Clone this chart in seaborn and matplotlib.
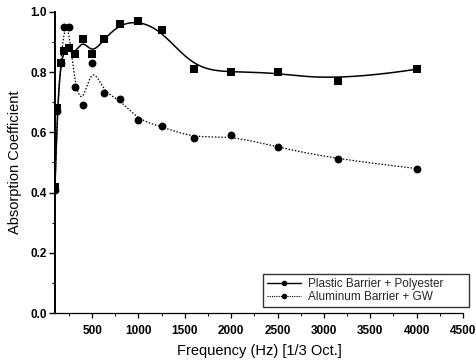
import numpy as np
import pandas as pd
import matplotlib
matplotlib.use("Agg")
import matplotlib.pyplot as plt
from matplotlib.lines import Line2D
from matplotlib.ticker import MultipleLocator
import seaborn as sns

# ---- data (1/3 octave band centre frequencies) ----
freq = [100, 125, 160, 200, 250, 315, 400, 500, 630, 800, 1000, 1250, 1600, 2000, 2500, 3150, 4000]
plastic_polyester = [0.42, 0.68, 0.83, 0.87, 0.88, 0.86, 0.91, 0.86, 0.91, 0.96, 0.97, 0.94, 0.81, 0.80, 0.80, 0.77, 0.81]
aluminum_gw = [0.41, 0.67, 0.83, 0.95, 0.95, 0.75, 0.69, 0.83, 0.73, 0.71, 0.64, 0.62, 0.58, 0.59, 0.55, 0.51, 0.48]
series_names = ["Plastic Barrier + Polyester", "Aluminum Barrier + GW"]
x_ticks = [500, 1000, 1500, 2000, 2500, 3000, 3500, 4000, 4500]
y_ticks = [0.0, 0.2, 0.4, 0.6, 0.8, 1.0]


def bspline(x, y, n=600, k=3):
    """Clamped cubic B-spline using the data points as control points."""
    P = np.column_stack([x, y]).astype(float)
    m = len(P)
    knots = np.concatenate([np.zeros(k), np.linspace(0, 1, m - k + 1), np.ones(k)])
    t = np.linspace(0, 1, n)
    t[-1] = 1 - 1e-12
    N = np.array([(knots[i] <= t) & (t < knots[i + 1]) for i in range(len(knots) - 1)]).T.astype(float)
    for d in range(1, k + 1):
        Nn = np.zeros((n, len(knots) - 1 - d))
        for i in range(len(knots) - 1 - d):
            a = knots[i + d] - knots[i]
            b = knots[i + d + 1] - knots[i + 1]
            term = np.zeros(n)
            if a > 0:
                term = term + (t - knots[i]) / a * N[:, i]
            if b > 0:
                term = term + (knots[i + d + 1] - t) / b * N[:, i + 1]
            Nn[:, i] = term
        N = Nn
    C = N @ P
    return C[:, 0], C[:, 1]


sns.set_theme(style="ticks")
plt.rcParams["font.family"] = ["Liberation Sans", "DejaVu Sans"]

fig = plt.figure(figsize=(4.77, 3.62), dpi=100)
ax = fig.add_axes([55 / 477, 1 - 313 / 362, (463 - 55) / 477, (313 - 12) / 362])

pts = pd.DataFrame({
    "freq": freq * 2,
    "alpha": plastic_polyester + aluminum_gw,
    "series": [series_names[0]] * len(freq) + [series_names[1]] * len(freq),
})

cx1, cy1 = bspline(freq, plastic_polyester)
cx2, cy2 = bspline(freq, aluminum_gw)
curves = pd.DataFrame({
    "freq": np.concatenate([cx1, cx2]),
    "alpha": np.concatenate([cy1, cy2]),
    "series": [series_names[0]] * len(cx1) + [series_names[1]] * len(cx2),
})

sns.lineplot(data=curves[curves.series == series_names[0]], x="freq", y="alpha",
             sort=False, estimator=None, color="black", lw=1.1, ax=ax, legend=False)
sns.lineplot(data=curves[curves.series == series_names[1]], x="freq", y="alpha",
             sort=False, estimator=None, color="black", lw=0.9, ax=ax, legend=False,
             linestyle=(0, (1.2, 1.4)))

sns.scatterplot(data=pts[pts.series == series_names[0]], x="freq", y="alpha",
                marker="s", s=32, color="black", edgecolor="black", linewidth=0, ax=ax,
                legend=False, zorder=5)
sns.scatterplot(data=pts[pts.series == series_names[1]], x="freq", y="alpha",
                marker="o", s=32, color="black", edgecolor="black", linewidth=0, ax=ax,
                legend=False, zorder=5)

ax.set_xlim(100, 4500)
ax.set_ylim(0, 1.0)
ax.set_xticks(x_ticks)
ax.set_yticks(y_ticks)
ax.set_yticklabels([f"{v:.1f}" for v in y_ticks])
ax.xaxis.set_minor_locator(MultipleLocator(250))
ax.yaxis.set_minor_locator(MultipleLocator(0.1))

for s in ["top", "right"]:
    ax.spines[s].set_visible(False)
ax.spines["left"].set_linewidth(1.4)
ax.spines["bottom"].set_linewidth(0.9)
ax.spines["left"].set_color("black")
ax.spines["bottom"].set_color("black")

ax.tick_params(axis="y", which="major", direction="out", length=4, width=1.0, labelsize=8.5, pad=2, colors="black")
ax.tick_params(axis="y", which="minor", direction="out", length=2.5, width=0.8, colors="black")
ax.tick_params(axis="x", which="major", direction="out", length=3.5, width=0.9, labelsize=8.5, pad=5, colors="black")
ax.tick_params(axis="x", which="minor", direction="out", length=2, width=0.7, colors="black")
for lab in ax.get_xticklabels() + ax.get_yticklabels():
    lab.set_fontweight("bold")

ax.set_xlabel("Frequency (Hz) [1/3 Oct.]", fontsize=10.5, labelpad=5, color="black")
ax.set_ylabel("Absorption Coefficient", fontsize=10.5, labelpad=6, color="black")

handles = [
    Line2D([0], [0], color="black", lw=1.0, marker="o", markersize=3, label=series_names[0]),
    Line2D([0], [0], color="black", lw=0.8, linestyle=(0, (1, 1)), marker="o", markersize=3, label=series_names[1]),
]
lx0 = (263 - 55) / 408
lw_ = (469 - 263) / 408
ly0 = (313 - 307) / 301
lh = (307 - 275) / 301
leg = ax.legend(handles=handles, loc="lower left", bbox_to_anchor=(lx0, ly0, lw_, lh),
                mode="expand", borderaxespad=0, fontsize=8.5, frameon=True, fancybox=False,
                handlelength=2.9, handletextpad=0.6, borderpad=0.3, labelspacing=0.15)
leg.get_frame().set_edgecolor("black")
leg.get_frame().set_linewidth(1.0)

fig.savefig("out.png", dpi=100)
